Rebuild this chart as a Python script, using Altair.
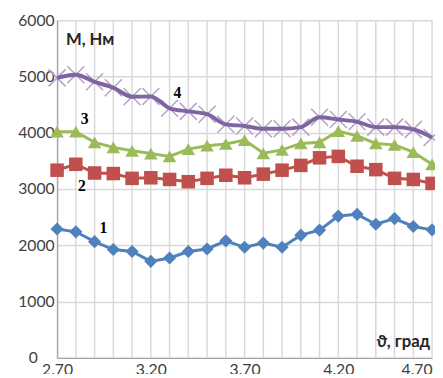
import altair as alt
import pandas as pd

x_vals = [2.7, 2.8, 2.9, 3.0, 3.1, 3.2, 3.3, 3.4, 3.5, 3.6, 3.7,
          3.8, 3.9, 4.0, 4.1, 4.2, 4.3, 4.4, 4.5, 4.6, 4.7]
s1 = [2290, 2240, 2065, 1925, 1890, 1715, 1775, 1890, 1935, 2080, 1965,
      2040, 1965, 2180, 2270, 2520, 2550, 2375, 2475, 2335, 2275]
s2 = [3335, 3440, 3285, 3275, 3190, 3200, 3170, 3130, 3190, 3245, 3200,
      3265, 3335, 3420, 3555, 3580, 3405, 3345, 3190, 3170, 3100]
s3 = [4020, 4020, 3830, 3740, 3680, 3630, 3580, 3710, 3770, 3800, 3870,
      3635, 3695, 3810, 3830, 4030, 3945, 3810, 3785, 3655, 3440]
s4 = [4975, 5030, 4905, 4800, 4640, 4645, 4435, 4380, 4330, 4150, 4120,
      4070, 4070, 4100, 4275, 4235, 4195, 4100, 4100, 4060, 3915]
y_ticks = [0, 1000, 2000, 3000, 4000, 5000, 6000]
x_label_vals = [2.7, 3.2, 3.7, 4.2, 4.7]

labels_txt = ["1", "2", "3", "4"]
labels_x = [2.947, 2.832, 2.847, 3.342]
labels_y = [2304, 3054, 4241, 4712]

ytitle = "M, Нм"
xtitle = "ϑ, град"

x_scale = alt.Scale(domain=[2.7, 4.7], nice=False, zero=False)
y_scale = alt.Scale(domain=[0, 6000], nice=False)

x_axis = alt.Axis(
    values=x_label_vals, title=None, grid=False, format=".2f",
    domainColor="#a6a6a6", domainWidth=1.5, ticks=False,
    labelFont="Lato", labelFontSize=16, labelColor="#404040", labelPadding=4,
    labelFlush=False, labelOverlap=False, labelBound=False,
    labelAlign={"condition": {"test": "datum.value > 4.65", "value": "right"}, "value": "center"},
)
y_axis = alt.Axis(
    values=y_ticks, title=None, grid=True, gridColor="#d9d9d9", gridWidth=1.5,
    domainColor="#a6a6a6", domainWidth=1.5, ticks=False, format="d",
    labelFont="Lato", labelFontSize=16, labelColor="#404040",
    labelPadding={"condition": {"test": "datum.value == 0", "value": 20}, "value": 3},
    labelOverlap=False, labelBound=False,
)

X = alt.X("x:Q", scale=x_scale, axis=x_axis)
Y = alt.Y("y:Q", scale=y_scale, axis=y_axis)

def df_of(vals):
    return pd.DataFrame({"x": x_vals, "y": vals})

blue, red, green, purple, lav = "#4f81bd", "#c0504d", "#9bbb59", "#8064a2", "#b3a2c7"

grid = alt.Chart(pd.DataFrame({"x": x_vals[1:]})).mark_rule(
    color="#d9d9d9", strokeWidth=1.5).encode(x=X)

l1 = alt.Chart(df_of(s1)).mark_line(color=blue, strokeWidth=3).encode(x=X, y=Y)
p1 = alt.Chart(df_of(s1)).mark_point(shape="diamond", filled=True, color=blue, size=180, opacity=1).encode(x=X, y=Y)
l2 = alt.Chart(df_of(s2)).mark_line(color=red, strokeWidth=3).encode(x=X, y=Y)
p2 = alt.Chart(df_of(s2)).mark_point(shape="square", filled=True, color=red, size=190, opacity=1).encode(x=X, y=Y)
l3 = alt.Chart(df_of(s3)).mark_line(color=green, strokeWidth=3).encode(x=X, y=Y)
p3 = alt.Chart(df_of(s3)).mark_point(shape="triangle-up", filled=True, color=green, size=190, opacity=1).encode(x=X, y=Y)
p4 = alt.Chart(df_of(s4)).mark_point(shape="M-1,-1L1,1M1,-1L-1,1", filled=False, color=lav,
                                     strokeWidth=1.5, size=300, opacity=1).encode(x=X, y=Y)
l4 = alt.Chart(df_of(s4)).mark_line(color=purple, strokeWidth=4, interpolate="monotone").encode(x=X, y=Y)

nums = alt.Chart(pd.DataFrame({"x": labels_x, "y": labels_y, "t": labels_txt})).mark_text(
    font="Liberation Serif", fontWeight="bold", fontSize=16, color="#000000",
    align="center", baseline="middle").encode(x=X, y=Y, text="t:N")

yt = alt.Chart(pd.DataFrame({"x": [2.747], "y": [5654], "t": [ytitle]})).mark_text(
    font="Lato", fontWeight="bold", fontSize=17, color="#262626",
    align="left", baseline="middle").encode(x=X, y=Y, text="t:N")

xt = alt.Chart(pd.DataFrame({"x": [4.69], "y": [279], "t": [xtitle]})).mark_text(
    font="Lato", fontWeight="bold", fontSize=17, color="#262626",
    align="right", baseline="middle").encode(x=X, y=Y, text="t:N")

chart = alt.layer(grid, l1, p1, l2, p2, l3, p3, p4, l4, nums, yt, xt).properties(
    width=382, height=344, autosize="none",
    padding={"left": 50, "top": 9, "right": 3, "bottom": 13},
).configure_view(strokeWidth=0)

chart.save("out.html", embed_options={"renderer": "svg", "actions": False})
